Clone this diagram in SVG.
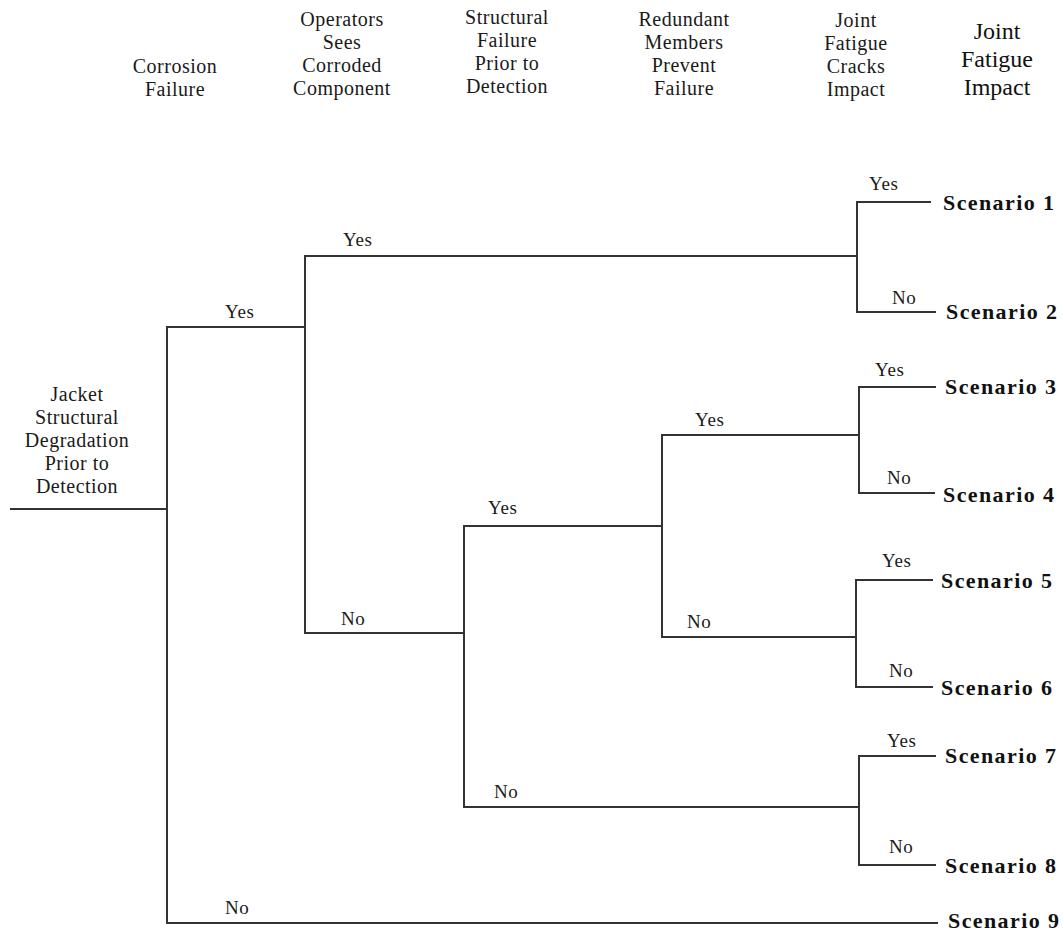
<svg xmlns="http://www.w3.org/2000/svg" width="1063" height="932" viewBox="0 0 1063 932">
<style>
text{font-family:'Liberation Serif','Times New Roman',Tinos,Times,'DejaVu Serif',serif}
.h{font-size:20px;letter-spacing:0.5px;fill:#1a1a1a;text-anchor:middle}
.h6{font-size:24px;fill:#111;text-anchor:middle}
.l{font-size:19px;letter-spacing:0.6px;fill:#1a1a1a}
.s{font-size:22px;font-weight:bold;letter-spacing:1.4px;fill:#111}
.c path{fill:none;stroke:#333;stroke-width:2}
</style>
<rect width="1063" height="932" fill="#fff"/>
<g id="headers">
<text class="h"><tspan x="175" y="73">Corrosion</tspan><tspan x="175" y="96">Failure</tspan></text>
<text class="h"><tspan x="342" y="26">Operators</tspan><tspan x="342" y="49">Sees</tspan><tspan x="342" y="72">Corroded</tspan><tspan x="342" y="95">Component</tspan></text>
<text class="h"><tspan x="507" y="24">Structural</tspan><tspan x="507" y="47">Failure</tspan><tspan x="507" y="70">Prior to</tspan><tspan x="507" y="93">Detection</tspan></text>
<text class="h"><tspan x="684" y="26">Redundant</tspan><tspan x="684" y="49">Members</tspan><tspan x="684" y="72">Prevent</tspan><tspan x="684" y="95">Failure</tspan></text>
<text class="h"><tspan x="856" y="27">Joint</tspan><tspan x="856" y="50">Fatigue</tspan><tspan x="856" y="73">Cracks</tspan><tspan x="856" y="96">Impact</tspan></text>
<text class="h6"><tspan x="997" y="39">Joint</tspan><tspan x="997" y="67">Fatigue</tspan><tspan x="997" y="95">Impact</tspan></text>
</g>
<g id="root">
<text class="h"><tspan x="77" y="401">Jacket</tspan><tspan x="77" y="424">Structural</tspan><tspan x="77" y="447">Degradation</tspan><tspan x="77" y="470">Prior to</tspan><tspan x="77" y="493">Detection</tspan></text>
</g>
<g id="connectors" class="c">
<path d="M10 509H167"/>
<path d="M305 327H167V923H938"/>
<path d="M857 256H305V633H464"/>
<path d="M931 202H857V312H936"/>
<path d="M936 387H859V493H935"/>
<path d="M859 435H662V637H856"/>
<path d="M662 526H464V807H859"/>
<path d="M933 580H856V687H933"/>
<path d="M936 756H859V865H936"/>
</g>
<g id="branch-labels">
<text class="l" x="225" y="318">Yes</text>
<text class="l" x="343" y="246">Yes</text>
<text class="l" x="341" y="625">No</text>
<text class="l" x="869" y="190">Yes</text>
<text class="l" x="892" y="304">No</text>
<text class="l" x="875" y="376">Yes</text>
<text class="l" x="887" y="484">No</text>
<text class="l" x="695" y="426">Yes</text>
<text class="l" x="687" y="628">No</text>
<text class="l" x="488" y="514">Yes</text>
<text class="l" x="494" y="798">No</text>
<text class="l" x="882" y="567">Yes</text>
<text class="l" x="889" y="677">No</text>
<text class="l" x="887" y="747">Yes</text>
<text class="l" x="889" y="853">No</text>
<text class="l" x="225" y="914">No</text>
</g>
<g id="scenarios">
<text id="s1" class="s" x="943" y="210">Scenario 1</text>
<text id="s2" class="s" x="946" y="319">Scenario 2</text>
<text id="s3" class="s" x="945" y="394">Scenario 3</text>
<text id="s4" class="s" x="943" y="502">Scenario 4</text>
<text id="s5" class="s" x="941" y="588">Scenario 5</text>
<text id="s6" class="s" x="941" y="695">Scenario 6</text>
<text id="s7" class="s" x="945" y="763">Scenario 7</text>
<text id="s8" class="s" x="945" y="873">Scenario 8</text>
<text id="s9" class="s" x="948" y="928">Scenario 9</text>
</g>
</svg>
